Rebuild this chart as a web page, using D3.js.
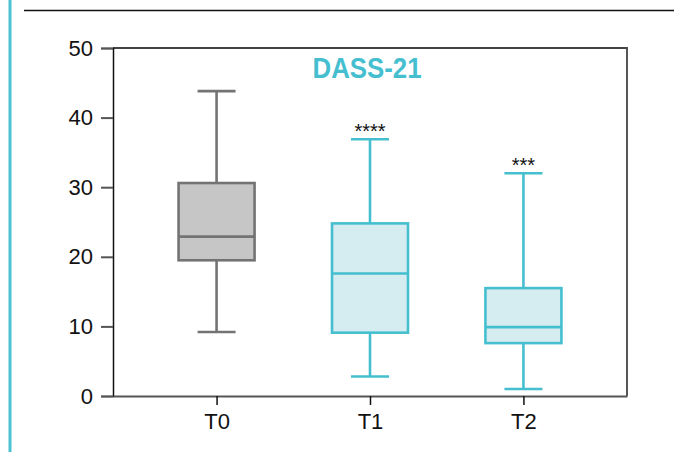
<!DOCTYPE html>
<html>
<head>
<meta charset="utf-8">
<script src="https://cdn.jsdelivr.net/npm/d3@7"></script>
<style>
  body { margin: 0; background: #fff; }
  svg { display: block; font-family: "Liberation Sans", Arial, sans-serif; }
</style>
</head>
<body>
<script>
const W = 678, H = 452;
const groups = ['T0', 'T1', 'T2'];
const whiskerLow = [9.2, 2.8, 1.0];
const q1 = [19.5, 9.1, 7.6];
const median = [22.9, 17.6, 9.9];
const q3 = [30.6, 24.8, 15.5];
const whiskerHigh = [43.8, 36.9, 32.0];
const stars = ['', '****', '***'];
const yTicks = [0, 10, 20, 30, 40, 50];

const grey = { stroke: '#737373', fill: '#c6c6c6' };
const teal = { stroke: '#45bfcf', fill: '#d5ecf0' };
const styleOf = i => i === 0 ? grey : teal;

const svg = d3.select('body').append('svg')
    .attr('width', W)
    .attr('height', H);

// page decorations
svg.append('line')
    .attr('x1', 10).attr('x2', 10).attr('y1', 0).attr('y2', H)
    .attr('stroke', '#4cc2d3').attr('stroke-width', 3);
svg.append('line')
    .attr('x1', 24).attr('x2', 674).attr('y1', 10.5).attr('y2', 10.5)
    .attr('stroke', '#111').attr('stroke-width', 1.5);

const x = d3.scalePoint().domain(groups).range([113, 627]).padding(0.675);
const y = d3.scaleLinear().domain([0, 50]).range([396, 48]);

// frame top / right
svg.append('path')
    .attr('d', `M${x.range()[0]},${y(50)}H${x.range()[1]}V${y(0)}`)
    .attr('fill', 'none').attr('stroke', '#444').attr('stroke-width', 1.8);

const yAxis = svg.append('g')
    .attr('transform', `translate(${x.range()[0]},0)`)
    .call(d3.axisLeft(y).tickValues(yTicks).tickSize(12).tickPadding(8));
yAxis.select('.domain').attr('stroke', '#111').attr('stroke-width', 1.5);
yAxis.selectAll('.tick line').attr('stroke', '#555').attr('stroke-width', 2);
yAxis.selectAll('text').attr('font-size', 22).attr('fill', '#111')
    .attr('font-family', '"Liberation Sans", Arial, sans-serif');

const xAxis = svg.append('g')
    .attr('transform', `translate(0,${y(0)})`)
    .call(d3.axisBottom(x).tickSize(9).tickPadding(8).tickSizeOuter(0));
xAxis.select('.domain').attr('stroke', '#555').attr('stroke-width', 2.2);
xAxis.selectAll('.tick line').attr('stroke', '#111').attr('stroke-width', 1.5);
xAxis.selectAll('text').attr('font-size', 22).attr('fill', '#111')
    .attr('font-family', '"Liberation Sans", Arial, sans-serif');

const boxW = 76, capW = 38;
const boxes = svg.selectAll('g.box')
    .data(groups)
    .enter()
    .append('g')
    .attr('class', 'box');

boxes.append('line')
    .attr('x1', d => x(d)).attr('x2', d => x(d))
    .attr('y1', (d, i) => y(whiskerHigh[i])).attr('y2', (d, i) => y(whiskerLow[i]))
    .attr('stroke', (d, i) => styleOf(i).stroke).attr('stroke-width', 2.6);
boxes.append('line')
    .attr('x1', d => x(d) - capW / 2).attr('x2', d => x(d) + capW / 2)
    .attr('y1', (d, i) => y(whiskerHigh[i])).attr('y2', (d, i) => y(whiskerHigh[i]))
    .attr('stroke', (d, i) => styleOf(i).stroke).attr('stroke-width', 2.6);
boxes.append('line')
    .attr('x1', d => x(d) - capW / 2).attr('x2', d => x(d) + capW / 2)
    .attr('y1', (d, i) => y(whiskerLow[i])).attr('y2', (d, i) => y(whiskerLow[i]))
    .attr('stroke', (d, i) => styleOf(i).stroke).attr('stroke-width', 2.6);
boxes.append('rect')
    .attr('x', d => x(d) - boxW / 2)
    .attr('y', (d, i) => y(q3[i]))
    .attr('width', boxW)
    .attr('height', (d, i) => y(q1[i]) - y(q3[i]))
    .attr('fill', (d, i) => styleOf(i).fill)
    .attr('stroke', (d, i) => styleOf(i).stroke).attr('stroke-width', 2.6);
boxes.append('line')
    .attr('x1', d => x(d) - boxW / 2).attr('x2', d => x(d) + boxW / 2)
    .attr('y1', (d, i) => y(median[i])).attr('y2', (d, i) => y(median[i]))
    .attr('stroke', (d, i) => styleOf(i).stroke).attr('stroke-width', 2.6);
boxes.append('text')
    .attr('x', d => x(d))
    .attr('y', (d, i) => y(whiskerHigh[i]) - 1)
    .attr('text-anchor', 'middle')
    .attr('font-size', 20)
    .attr('fill', '#111')
    .text((d, i) => stars[i]);

svg.append('text')
    .attr('transform', `translate(367,78) scale(0.89,1)`)
    .attr('text-anchor', 'middle')
    .attr('font-size', 29)
    .attr('font-weight', 'bold')
    .attr('fill', '#45bfcf')
    .text('DASS-21');
</script>
</body>
</html>
